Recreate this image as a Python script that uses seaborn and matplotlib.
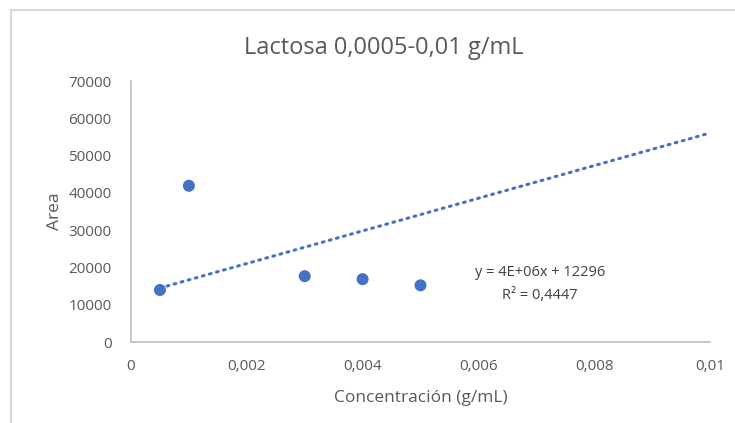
import matplotlib
matplotlib.use("Agg")
import matplotlib.pyplot as plt
import seaborn as sns
import pandas as pd
from matplotlib.patches import Rectangle

# Data
conc = [0.0005, 0.001, 0.003, 0.004, 0.005]
area = [13950, 41900, 17650, 16850, 15200]

# Trendline as displayed (y = slope*x + intercept)
trend_slope = 4.376e6
trend_intercept = 12296
trend_x = [0.0005, 0.01]
trend_y = [trend_slope * v + trend_intercept for v in trend_x]

x_ticks = [0, 0.002, 0.004, 0.006, 0.008, 0.01]
x_tick_labels = ["0", "0,002", "0,004", "0,006", "0,008", "0,01"]
y_ticks = [0, 10000, 20000, 30000, 40000, 50000, 60000, 70000]
y_tick_labels = ["0", "10000", "20000", "30000", "40000", "50000", "60000", "70000"]

title = "Lactosa 0,0005-0,01 g/mL"
xlabel = "Concentración (g/mL)"
ylabel = "Area"
eq_line1 = "y = 4E+06x + 12296"
eq_line2 = "R² = 0,4447"

sns.set_theme(style="white")
plt.rcParams["font.family"] = ["Open Sans", "DejaVu Sans"]

W, H = 735, 423
fig = plt.figure(figsize=(W / 100, H / 100), dpi=100)
ax = fig.add_axes([131 / W, 1 - 342 / H, (710 - 131) / W, (342 - 81) / H])

blue = "#4472C4"
grey = "#595959"

df = pd.DataFrame({"x": conc, "y": area})
tdf = pd.DataFrame({"x": trend_x, "y": trend_y})

sns.lineplot(data=tdf, x="x", y="y", ax=ax, color=blue, linestyle=(0, (0.6, 1.8)),
             linewidth=2.2, dash_capstyle="round", zorder=2)
sns.scatterplot(data=df, x="x", y="y", ax=ax, color=blue, s=75, edgecolor="none", zorder=3)

ax.set_xlim(0, 0.01)
ax.set_ylim(0, 70000)
ax.set_xticks(x_ticks)
ax.set_xticklabels(x_tick_labels)
ax.set_yticks(y_ticks)
ax.set_yticklabels(y_tick_labels)
ax.tick_params(axis="both", length=0, labelsize=11, labelcolor=grey)
ax.tick_params(axis="x", pad=12)
ax.tick_params(axis="y", pad=14)

for s in ["top", "right"]:
    ax.spines[s].set_visible(False)
for s in ["left", "bottom"]:
    ax.spines[s].set_color("#BFBFBF")
    ax.spines[s].set_linewidth(1.2)

ax.set_xlabel(xlabel, fontsize=12.5, color=grey, labelpad=12)
ax.set_ylabel(ylabel, fontsize=12.5, color=grey, labelpad=4)
fig.text(384 / W, 1 - 48 / H, title, ha="center", va="center", fontsize=17, color=grey)

ax.text(540 / W, 1 - 272 / H, eq_line1, transform=fig.transFigure, ha="center", va="center",
        fontsize=10.5, color="#404040")
ax.text(540 / W, 1 - 295 / H, eq_line2, transform=fig.transFigure, ha="center", va="center",
        fontsize=10.5, color="#404040")

fig.patches.append(Rectangle((11 / W, -0.1), 2, (1 - 10 / H) + 0.1, transform=fig.transFigure,
                             fill=False, edgecolor="#D9D9D9", linewidth=1.5))

fig.savefig("out.png", dpi=100)
